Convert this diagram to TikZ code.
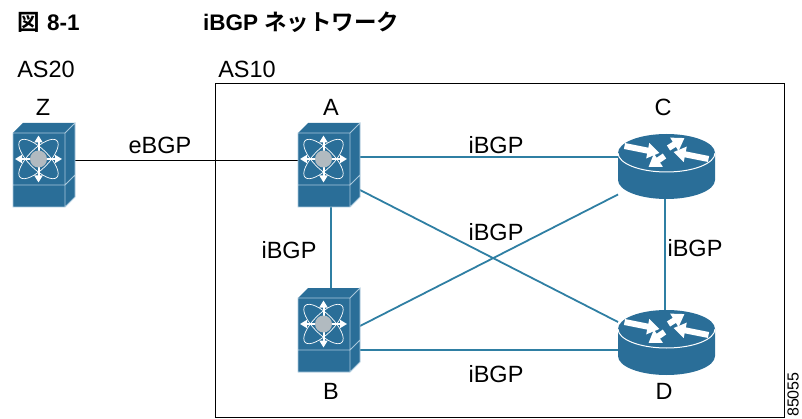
\documentclass[tikz,border=0pt]{standalone}
\usepackage{fontspec}
\setmainfont{Liberation Sans}
\newfontfamily\cjk{Noto Sans CJK JP}[BoldFont={Noto Sans CJK JP Bold}]
\usetikzlibrary{arrows.meta}
\definecolor{ciscoblue}{HTML}{2A6E98}
\definecolor{ciscoline}{HTML}{A9C8DC}
\definecolor{linkblue}{HTML}{2F7FA3}
\tikzset{
  lbl/.style={font=\fontsize{23.5pt}{26pt}\selectfont,inner sep=0pt},
  ttl/.style={font=\fontsize{22.5pt}{25pt}\selectfont\bfseries,inner sep=0pt,anchor=west},
  swbox/.style={minimum width=62pt,minimum height=84pt,inner sep=0pt,outer sep=0pt},
  rtbox/.style={minimum width=97pt,minimum height=65pt,inner sep=0pt,outer sep=0pt},
  link/.style={draw=linkblue,line width=1.8pt},
  wan/.style={draw=black,line width=.9pt},
  wharrow/.style={draw=white,line width=2pt,-{Triangle[width=8pt,length=7pt]}},
  rtarrow/.style={draw=white,line width=6pt,-{Triangle[width=15pt,length=12pt]}},
  switchicon/.pic={
    % origin is the middle of the box, front panel centre is at (-6,-5)
    \fill[ciscoblue] (-31,-32) -- (-21,-42) -- (31,-42) -- (31,32) -- (21,42) -- (-31,42) -- cycle;
    \draw[ciscoline,line width=.8pt] (-31,-32) -- (21,-32) -- (31,-42) -- (31,32) -- (21,42) -- (-31,42) -- cycle (21,-32) -- (21,42) (-31,20) -- (21,20) -- (31,10);
    \begin{scope}[shift={(-5.5,-6)}]
      \draw[white,line width=.7pt,rotate=45] (0,0) ellipse (26pt and 10pt);
      \draw[white,line width=.7pt,rotate=-45] (0,0) ellipse (26pt and 10pt);
      \foreach \ang in {0,90,180,270}
        {\draw[wharrow] (0,0) -- (\ang:23.5pt);}
      \fill[ciscoline!40!gray!70] (0,0) circle (8.5pt);
    \end{scope}
  },
  routericon/.pic={
    % origin is the middle of the box, top ellipse centre is at (0,-13.5)
    \fill[ciscoblue] (-48.5,-13.5) -- (-48.5,13.5) arc[start angle=180,end angle=360,x radius=48.5pt,y radius=19pt] -- (48.5,-13.5) -- cycle;
    \fill[ciscoblue] (0,-13.5) ellipse (48.5pt and 19pt);
    \draw[white,line width=1pt] (-48.5,-13.5) arc[start angle=180,end angle=360,x radius=48.5pt,y radius=19pt];
    \begin{scope}[shift={(0,-13.5)}]
      \foreach \xa/\ya/\xb/\yb in {-42/-7/-7/0,42/6/7/-1,2/-5/18/-15,-2/3/-18/14}
        {\draw[rtarrow] (\xa,\ya) -- (\xb,\yb);}
    \end{scope}
  }
}
\begin{document}
\begin{tikzpicture}[x=1pt,y=-1pt]
  \useasboundingbox (0,0) rectangle (802,419);
  \node[ttl] (figno) at (17,22) {{\cjk\bfseries 図}\hspace{7.5pt}8-1};
  \node[ttl] (figname) at (203,22) {iBGP {\cjk\bfseries ネットワーク}};
  \node[lbl] (as20) at (46,69) {AS20};
  \node[lbl] (as10) at (247,69) {AS10};
  \draw[black,line width=1pt] (215.5,84) rectangle (784,417);

  \node[swbox] (Z) at (44,165) {};
  \node[swbox] (A) at (329,165) {};
  \node[swbox] (B) at (329,330) {};
  \node[rtbox] (C) at (666.5,166.5) {};
  \node[rtbox] (D) at (666.5,342.5) {};

  \draw[wan] ([yshift=5pt]Z.east) -- ([yshift=5pt]A.west);
  \draw[link] ([yshift=8pt]A.east) -- ([yshift=9.5pt]C.west);
  \draw[link] ([xshift=2pt]A.south) -- ([xshift=2pt]B.north);
  \draw[link] ([xshift=-1.5pt]C.south) -- ([xshift=-1.5pt]D.north);
  \draw[link] ([yshift=-25pt]A.east) -- ([yshift=20.5pt]D.west);
  \draw[link] ([yshift=4pt]B.east) -- ([yshift=-28pt]C.west);
  \draw[link] ([yshift=-20pt]B.east) -- ([yshift=-7.5pt]D.west);

  \foreach \n in {Z,A,B}
  {
    \pic at (\n) {switchicon};
  }
  \foreach \n in {C,D}
  {
    \pic at (\n) {routericon};
  }

  \foreach \n/\x/\y in {Z/43/107,A/331/107,C/663/107,B/331/391,D/664/391}
  {
    \node[lbl] (name\n) at (\x,\y) {\n};
  }
  \node[lbl] (ebgp) at (160,145) {eBGP};
  \foreach \i/\x/\y in {1/496/145,2/289/250,3/496/232,4/695/248,5/496/374}
  {
    \node[lbl] (ibgp\i) at (\x,\y) {iBGP};
  }
  \node[font=\fontsize{16pt}{20pt}\selectfont,inner sep=0pt,rotate=90,anchor=west] (figid) at (793,417) {85055};
\end{tikzpicture}
\end{document}
